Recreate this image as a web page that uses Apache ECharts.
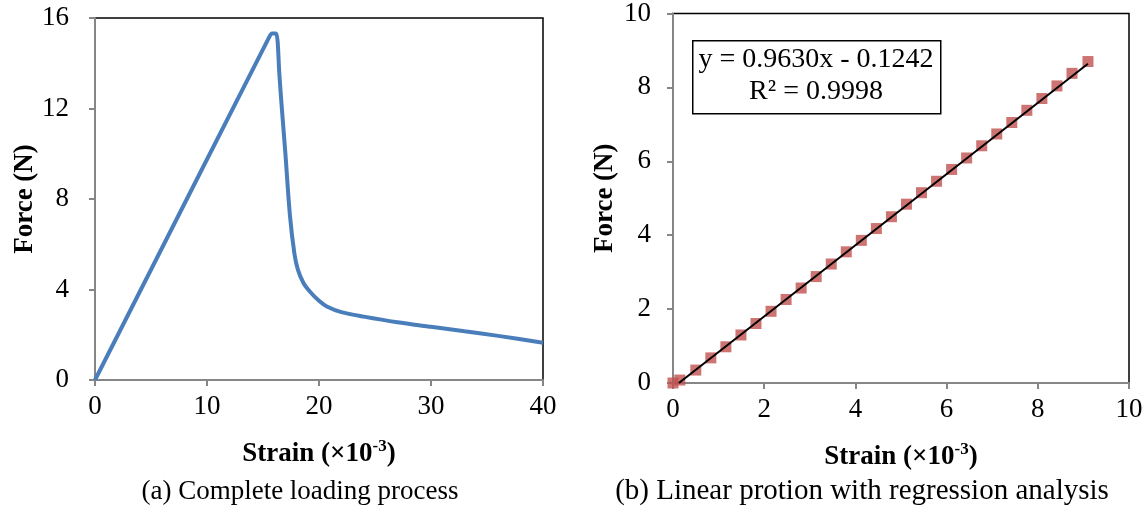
<!DOCTYPE html>
<html>
<head>
<meta charset="utf-8">
<script src="https://cdn.jsdelivr.net/npm/echarts@6/dist/echarts.min.js"></script>
<style>
  html, body { margin: 0; padding: 0; background: #fff; }
  #main { width: 1148px; height: 511px; }
</style>
</head>
<body>
<div id="main"></div>
<script>
// (a) complete loading process: strain (x10^-3) vs force (N)
var loadStrain = [0, 15.6, 15.8, 16.15, 16.3, 16.45, 16.7, 17.0, 17.4, 17.8, 18.1, 18.6, 19.2, 20.0, 20.7, 22.0, 24.0, 27.0, 30.0, 33.0, 36.0, 40.0];
var loadForce  = [0, 15.2, 15.32, 15.32, 15.0, 13.6, 11.9, 10.0, 7.3, 5.6, 4.9, 4.3, 3.9, 3.5, 3.25, 3.0, 2.8, 2.55, 2.35, 2.15, 1.95, 1.65];

// (b) linear portion
var linStrain = [0, 0.15, 0.50, 0.83, 1.16, 1.49, 1.82, 2.15, 2.48, 2.81, 3.14, 3.47, 3.80, 4.13, 4.46, 4.79, 5.12, 5.45, 5.78, 6.11, 6.44, 6.77, 7.10, 7.43, 7.76, 8.09, 8.42, 8.75, 9.10];
var linForce  = [0, 0.08, 0.35, 0.68, 0.98, 1.30, 1.61, 1.94, 2.26, 2.57, 2.88, 3.22, 3.55, 3.86, 4.18, 4.50, 4.84, 5.15, 5.46, 5.78, 6.09, 6.42, 6.74, 7.05, 7.38, 7.70, 8.04, 8.38, 8.70];

// regression shown in the box
var slope = 0.9630, intercept = -0.1242, r2 = 0.9998;

var leftTicks = { x: [0, 40, 10], y: [0, 16, 4] };
var rightTicks = { x: [0, 10, 2], y: [0, 10, 2] };

var FONT = '"Liberation Serif", "Times New Roman", serif';
var GREY = '#868686';

function pairs(xs, ys) {
  return xs.map(function (v, i) { return [v, ys[i]]; });
}

// trendline clipped at force = 0 like in the original
var trendStart = -intercept / slope;
var trendEnd = linStrain[linStrain.length - 1];
var trendLine = [[trendStart, slope * trendStart + intercept], [trendEnd, slope * trendEnd + intercept]];

var strainName = '{b|Strain (×10}{s|-3}{b|)}';
var nameRich = {
  b: { fontFamily: FONT, fontWeight: 'bold', fontSize: 27, color: '#000', lineHeight: 30, verticalAlign: 'bottom' },
  s: { fontFamily: FONT, fontWeight: 'bold', fontSize: 17, color: '#000', lineHeight: 18, verticalAlign: 'top' }
};

function xAxis(idx, t, gap) {
  return {
    type: 'value', gridIndex: idx, min: t[0], max: t[1], interval: t[2],
    name: strainName, nameLocation: 'middle', nameGap: gap,
    nameTextStyle: { rich: nameRich },
    axisLine: { show: true, lineStyle: { color: GREY, width: 2 } },
    axisTick: { show: true, inside: false, length: 6, lineStyle: { color: GREY, width: 2 } },
    axisLabel: { fontFamily: FONT, fontSize: 27, color: '#000', margin: 13 },
    splitLine: { show: false }
  };
}

function yAxis(idx, t, gap, margin) {
  return {
    type: 'value', gridIndex: idx, min: t[0], max: t[1], interval: t[2],
    name: 'Force (N)', nameLocation: 'middle', nameGap: gap, nameRotate: 90,
    nameTextStyle: { fontFamily: FONT, fontWeight: 'bold', fontSize: 27, color: '#000' },
    axisLine: { show: true, lineStyle: { color: GREY, width: 2 } },
    axisTick: { show: true, inside: false, length: 6, lineStyle: { color: GREY, width: 2 } },
    axisLabel: { fontFamily: FONT, fontSize: 27, color: '#000', margin: margin },
    splitLine: { show: false }
  };
}

var chart = echarts.init(document.getElementById('main'));
var option = {
  backgroundColor: '#fff',
  animation: false,
  grid: [
    { left: 95, top: 18, width: 448, height: 362, show: true, borderColor: '#000', borderWidth: 1.5, backgroundColor: 'transparent' },
    { left: 673, top: 13, width: 456, height: 370, show: true, borderColor: '#000', borderWidth: 1.5, backgroundColor: 'transparent' }
  ],
  xAxis: [xAxis(0, leftTicks.x, 58), xAxis(1, rightTicks.x, 58)],
  yAxis: [yAxis(0, leftTicks.y, 54, 26), yAxis(1, rightTicks.y, 54, 22)],
  series: [
    {
      type: 'line', xAxisIndex: 0, yAxisIndex: 0,
      data: pairs(loadStrain, loadForce),
      showSymbol: false, smooth: 0.3,
      lineStyle: { color: '#4a7ebb', width: 4 }
    },
    {
      type: 'line', xAxisIndex: 1, yAxisIndex: 1,
      data: trendLine, showSymbol: false,
      lineStyle: { color: '#000', width: 2 }, z: 3
    },
    {
      type: 'scatter', xAxisIndex: 1, yAxisIndex: 1,
      data: pairs(linStrain, linForce),
      symbol: 'rect', symbolSize: 11,
      itemStyle: { color: '#c0504d' }, z: 2
    }
  ],
  graphic: [
    {
      type: 'rect', left: 692, top: 40, z: 10,
      shape: { width: 248, height: 73 },
      style: { fill: '#fff', stroke: '#000', lineWidth: 1.5 }
    },
    {
      type: 'text', x: 816, y: 44, z: 11,
      style: {
        text: 'y = ' + slope.toFixed(4) + 'x - ' + Math.abs(intercept).toFixed(4) + '\nR² = ' + r2.toFixed(4),
        textAlign: 'center', lineHeight: 32,
        font: '28px ' + FONT, fill: '#000'
      }
    },
    {
      type: 'text', x: 300, y: 478,
      style: { text: '(a) Complete loading process', textAlign: 'center', font: '27px ' + FONT, fill: '#000' }
    },
    {
      type: 'text', x: 862, y: 477,
      style: { text: '(b) Linear protion with regression analysis', textAlign: 'center', font: '29px ' + FONT, fill: '#000' }
    }
  ]
};
chart.setOption(option);
</script>
</body>
</html>
